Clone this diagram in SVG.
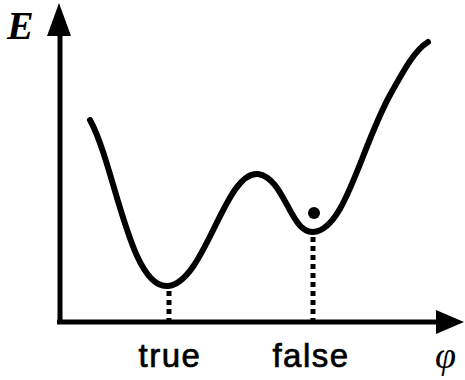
<svg xmlns="http://www.w3.org/2000/svg" width="465" height="380" viewBox="0 0 465 380">
<style>
.ax{stroke:#000;stroke-width:5;fill:none}
.cv{stroke:#000;stroke-width:6;fill:none;stroke-linecap:round}
.dot{stroke:#000;stroke-width:5;stroke-dasharray:5 4;fill:none}
.lbl{font-family:"Liberation Sans","DejaVu Sans",sans-serif;font-size:33px;letter-spacing:1.5px;fill:#000;stroke:#000;stroke-width:0.7;text-anchor:middle}
.math{font-family:"Liberation Serif","DejaVu Serif",serif;font-style:italic;fill:#000}
</style>
<rect width="465" height="380" fill="#fff"/>
<g id="axes">
<line class="ax" x1="60" y1="324" x2="60" y2="30"/>
<polygon points="59,3 47,36 71,36" fill="#000"/>
<line class="ax" x1="57" y1="322" x2="440" y2="322"/>
<polygon points="464,322 436,310 436,334" fill="#000"/>
</g>
<g id="connectors">
<line class="dot" x1="169" y1="291" x2="169" y2="320"/>
<line class="dot" x1="313" y1="237" x2="313" y2="320"/>
</g>
<g id="curve">
<path class="cv" d="M90,120 C115,165 130,290 168,286 C205,283 225,170 258,174 C285,178 290,233 313,232 C345,230 360,150 390,95 C405,68 415,50 428,42"/>
<circle cx="314" cy="213" r="6" fill="#000"/>
</g>
<g id="labels">
<text class="math" x="7" y="39" font-size="40" font-weight="bold">E</text>
<text class="lbl" x="170" y="367">true</text>
<text class="lbl" x="311" y="367">false</text>
<text class="math" x="435" y="368" font-size="38">φ</text>
</g>
</svg>
